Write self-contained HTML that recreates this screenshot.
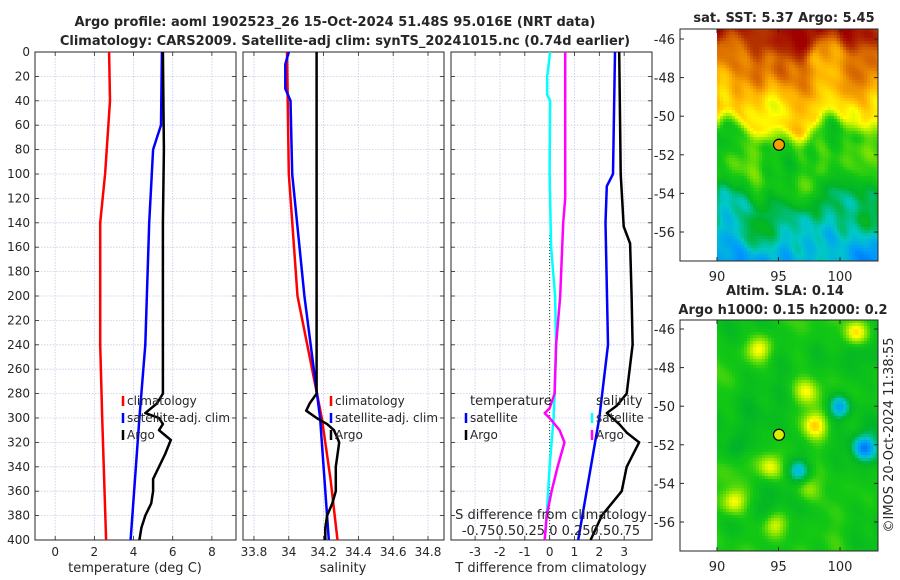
<!DOCTYPE html>
<html><head><meta charset="utf-8">
<style>
body{margin:0;background:#fff;font-family:"Liberation Sans","DejaVu Sans",sans-serif;}
#wrap{position:relative;width:900px;height:580px;overflow:hidden;background:#fff}
svg text{font-family:"DejaVu Sans","Liberation Sans",sans-serif;fill:#262626}
canvas{position:absolute;image-rendering:pixelated}
</style></head>
<body>
<div id="wrap">
<canvas id="sst" width="161" height="232" style="left:717px;top:29px;width:161px;height:232px"></canvas>
<canvas id="sla" width="161" height="231" style="left:717px;top:320px;width:161px;height:231px"></canvas>
<svg id="svg" width="900" height="580" style="position:absolute;left:0;top:0"></svg>
</div>
<script>
// ---- data ----
const depthTicks=[0,20,40,60,80,100,120,140,160,180,200,220,240,260,280,300,320,340,360,380,400];
const tTicks=[0,2,4,6,8];
const sTicks=[33.8,34,34.2,34.4,34.6,34.8];
const dTicks=[-3,-2,-1,0,1,2,3];
const dsTickLabels=["-0.75","0.5","0.25","0","0.25","0.5","0.75"];
// panel 1: temperature
const tClimP=[0,40,100,140,240,300,400];
const tClimV=[2.75,2.8,2.55,2.3,2.3,2.4,2.6];
const tSatP=[0,60,70,80,140,240,300,400];
const tSatV=[5.45,5.4,5.2,5.0,4.8,4.6,4.3,3.85];
const tArgoP=[0,80,140,260,280,288,292,296,300,305,310,318,330,350,360,370,380,390,400];
const tArgoV=[5.5,5.55,5.5,5.5,5.5,5.2,4.9,4.6,5.3,5.5,5.3,5.9,5.6,5.0,5.0,4.9,4.6,4.4,4.3];
// panel 2: salinity
const sClimP=[0,100,200,250,300,350,400];
const sClimV=[33.99,34.0,34.05,34.12,34.19,34.24,34.28];
const sSatP=[0,10,30,40,100,200,300,400];
const sSatV=[34.0,33.98,33.98,34.01,34.02,34.09,34.18,34.23];
const sArgoP=[0,280,288,294,300,305,310,320,340,360,370,380,390,400];
const sArgoV=[34.16,34.16,34.12,34.1,34.16,34.22,34.26,34.29,34.27,34.27,34.25,34.22,34.21,34.21];
// panel 3: differences
const dtSatP=[0,100,110,140,240,300,400];
const dtSatV=[2.63,2.55,2.3,2.25,2.35,2.0,1.15];
const dtArgoP=[0,100,143,157,200,240,280,290,296,305,312,320,340,360,380,400];
const dtArgoV=[2.8,2.86,2.98,3.24,3.3,3.34,3.1,2.7,2.3,2.8,3.1,3.6,3.1,2.9,2.1,1.65];
const dsSatP=[0,20,35,40,100,160,200,240,280,300,340,380,400];
const dsSatV=[0.005,-0.025,-0.025,0.005,0,0.015,0.055,0.065,0.05,0.04,0.0,-0.03,-0.05];
const dsArgoP=[0,120,140,200,240,280,292,296,300,310,320,340,360,380,400];
const dsArgoV=[0.157,0.157,0.136,0.106,0.065,0.05,0.0,-0.05,0.0,0.1,0.15,0.08,0.02,-0.03,-0.05];
const latTicks=[-46,-48,-50,-52,-54,-56];
const lonTicks=[90,95,100];

const NS="http://www.w3.org/2000/svg";
const svg=document.getElementById('svg');
function el(tag,attrs,parent){const e=document.createElementNS(NS,tag);for(const k in attrs)e.setAttribute(k,attrs[k]);(parent||svg).appendChild(e);return e;}
function txt(x,y,s,opt,parent){const t=el('text',Object.assign({x:x,y:y,'font-size':12,'text-anchor':'middle'},opt||{}),parent);t.textContent=s;return t;}

const Y0=52,Y1=540;
const yD=d=>Y0+(Y1-Y0)*d/400;
const panels=[
 {name:'temperature',x0:35,x1:236,min:-1.03,max:9.23},
 {name:'salinity',x0:243,x1:444,min:33.737,max:34.892},
 {name:'difference',x0:451,x1:652,min:-3.97,max:4.12}
];
function xf(p){return v=>p.x0+(p.x1-p.x0)*(v-p.min)/(p.max-p.min);}

function drawPanel(p,ticks,labels,showY){
  const g=el('g',{});
  
  
  const X=xf(p);
  ticks.forEach((t,i)=>{
    const x=X(t);
    el('line',{x1:x,y1:Y0,x2:x,y2:Y1,stroke:'#c3cbe8','stroke-width':0.8,'stroke-dasharray':'1.5,1.5'},g);
    el('line',{x1:x,y1:Y1,x2:x,y2:Y1-4,stroke:'#262626','stroke-width':0.8},g);
    el('line',{x1:x,y1:Y0,x2:x,y2:Y0+4,stroke:'#262626','stroke-width':0.8},g);
    const lb=txt(x,556,labels?labels[i]:String(t),{},g);
    
    
  });
  depthTicks.forEach(d=>{
    const y=yD(d);
    el('line',{x1:p.x0,y1:y,x2:p.x1,y2:y,stroke:'#c3cbe8','stroke-width':0.8,'stroke-dasharray':'1.5,1.5'},g);
    el('line',{x1:p.x0,y1:y,x2:p.x0+4,y2:y,stroke:'#262626','stroke-width':0.8},g);
    el('line',{x1:p.x1,y1:y,x2:p.x1-4,y2:y,stroke:'#262626','stroke-width':0.8},g);
    if(showY){const l=txt(p.x0-5,y+4,String(d),{'text-anchor':'end'},g);
      
      }
  });
  el('rect',{x:p.x0,y:Y0,width:p.x1-p.x0,height:Y1-Y0,fill:'none',stroke:'#262626','stroke-width':1},g);
  return X;
}
function line(X,P,V,color,name,scale){
  const pts=P.map((d,i)=>X(V[i]*(scale||1)).toFixed(1)+','+yD(d).toFixed(1)).join(' ');
  const l=el('polyline',{points:pts,fill:'none',stroke:color,'stroke-width':2.5,'stroke-linejoin':'round'});
  
  
}
function legend(x,y,items){
  items.forEach((it,i)=>{
    const yy=y+i*17;
    el('line',{x1:x,y1:yy-9,x2:x,y2:yy+1,stroke:it[0],'stroke-width':2.5});
    const t=txt(x+4,yy,it[1],{'text-anchor':'start'});
    
    
  });
}

const X1=drawPanel(panels[0],tTicks,null,true);
line(X1,tClimP,tClimV,'#ff0000','temperature-climatology-line');
line(X1,tSatP,tSatV,'#0000ff','temperature-satellite-line');
line(X1,tArgoP,tArgoV,'#000000','temperature-argo-line');
legend(123,405,[['#ff0000','climatology'],['#0000ff','satellite-adj. clim'],['#000','Argo']]);
txt(135,572,'temperature (deg C)',{'font-size':13});

const X2=drawPanel(panels[1],sTicks,["33.8","34","34.2","34.4","34.6","34.8"],false);
line(X2,sClimP,sClimV,'#ff0000','salinity-climatology-line');
line(X2,sSatP,sSatV,'#0000ff','salinity-satellite-line');
line(X2,sArgoP,sArgoV,'#000000','salinity-argo-line');
legend(331,405,[['#ff0000','climatology'],['#0000ff','satellite-adj. clim'],['#000','Argo']]);
txt(343,572,'salinity',{'font-size':13});

const X3=drawPanel(panels[2],dTicks,null,false);
el('line',{x1:X3(0),y1:yD(150),x2:X3(0),y2:Y1,stroke:'#333','stroke-width':1,'stroke-dasharray':'1,2'});
line(X3,dsSatP,dsSatV,'#00ffff','s-diff-satellite-line',4);
line(X3,dsArgoP,dsArgoV,'#ff00ff','s-diff-argo-line',4);
line(X3,dtSatP,dtSatV,'#0000ff','t-diff-satellite-line');
line(X3,dtArgoP,dtArgoV,'#000000','t-diff-argo-line');
txt(470,405,'temperature',{'text-anchor':'start','font-size':13});
txt(596,405,'salinity',{'text-anchor':'start','font-size':13});
legend(466,422,[['#0000ff','satellite'],['#000','Argo']]);
legend(592,422,[['#00ffff','satellite'],['#ff00ff','Argo']]);
txt(551,519,'S difference from climatology',{'font-size':13});
txt(551,535,'-0.750.50.25 0  0.250.50.75',{'font-size':13});
txt(551,572,'T difference from climatology',{'font-size':13});

// titles
txt(335,26,'Argo profile: aoml 1902523_26 15-Oct-2024 51.48S 95.016E (NRT data)',{'font-weight':'bold','font-size':13,fill:'#000'});
txt(345,45,'Climatology: CARS2009. Satellite-adj clim: synTS_20241015.nc (0.74d earlier)',{'font-weight':'bold','font-size':13,fill:'#000'});

// maps
function mapAxes(top,bot,lat46,lat56,name,fillc){
  const g=el('g',{});
  
  
  const ly=l=>lat46+(lat56-lat46)*(l+46)/(-10);
  latTicks.forEach(l=>{const y=ly(l);
    el('line',{x1:680,y1:y,x2:684,y2:y,stroke:'#262626'},g);
    el('line',{x1:878,y1:y,x2:874,y2:y,stroke:'#262626'},g);
    txt(675,y+5,String(l),{'text-anchor':'end','font-size':13},g);});
  lonTicks.forEach(l=>{const x=717+(l-90)*12.3;
    el('line',{x1:x,y1:bot,x2:x,y2:bot-4,stroke:'#262626'},g);
    el('line',{x1:x,y1:top,x2:x,y2:top+4,stroke:'#262626'},g);
    txt(x,bot+20,String(l),{'font-size':13},g);});
  el('rect',{x:680,y:top,width:198,height:bot-top,fill:'none',stroke:'#262626'},g);
  el('circle',{cx:779,cy:ly(-51.48),r:5.5,fill:fillc,stroke:'#000','stroke-width':1.2},g);
}
mapAxes(29,261,39,232,'sst-axes','#f5a000');
mapAxes(320,551,329,522,'sla-axes','#d8f000');
txt(784,22,'sat. SST: 5.37 Argo: 5.45',{'font-weight':'bold','font-size':13,fill:'#000'});
txt(785,295,'Altim. SLA: 0.14',{'font-weight':'bold','font-size':13,fill:'#000'});
txt(783,314,'Argo h1000: 0.15 h2000: 0.2',{'font-weight':'bold','font-size':13,fill:'#000'});
const c=txt(0,0,'©IMOS 20-Oct-2024 11:38:55',{'font-size':13,transform:'translate(893,435) rotate(-90)'});



const cmStops=[[0,[0,0,150]],[0.18,[0,60,220]],[0.28,[0,150,255]],[0.36,[0,200,200]],[0.44,[0,180,40]],[0.52,[20,200,20]],[0.6,[140,230,0]],[0.68,[255,255,0]],[0.76,[255,180,0]],[0.84,[220,110,0]],[0.92,[180,50,0]],[1,[160,0,0]]];
function cmap(v){v=Math.max(0,Math.min(1,v));
  for(let i=1;i<cmStops.length;i++){if(v<=cmStops[i][0]){const a=cmStops[i-1],b=cmStops[i],f=(v-a[0])/(b[0]-a[0]);
    return 'rgb('+a[1].map((c,k)=>Math.round(c+(b[1][k]-c)*f)).join(',')+')';}}
  return 'rgb(160,0,0)';}
function noise(u,v,s){
  return Math.sin(u*13.1*s+v*7.3+1.3)*Math.cos(v*11.7*s-u*3.1+0.4)
   +0.7*Math.sin(u*23.7*s-v*19.3*s+2.1)*Math.sin(v*5.9+u*17.3)
   +0.5*Math.cos(u*37.1-v*29.9*s+0.7)*Math.cos(u*9.3+v*31.7);
}
function smooth(a,b,x){const t=Math.max(0,Math.min(1,(x-a)/(b-a)));return t*t*(3-2*t);}
function drawMap(id,fn,cell){
  const cv=document.getElementById(id),ctx=cv.getContext('2d');
  for(let y=0;y<cv.height;y+=cell)for(let x=0;x<cv.width;x+=cell){
    ctx.fillStyle=cmap(fn(x/cv.width,y/cv.height));ctx.fillRect(x,y,cell,cell);}
}
drawMap('sst',(u,v)=>{
  const w=v+0.04*Math.sin(u*9+1.2)+0.03*Math.sin(u*21);
  const base=0.97-0.15*smooth(0.02,0.12,w)-0.12*smooth(0.15,0.38,w)-0.17*smooth(0.38,0.48,w)
    -0.12*smooth(0.62,0.78,w)-0.1*smooth(0.8,1.0,w);
  return base+0.04*noise(u,v,1);
},3);
const slaBlobs=[[0.25,0.12,0.2],[0.85,0.05,0.25],[0.5,0.65,-0.15],[0.1,0.78,0.2],[0.32,0.63,0.17],[0.55,0.72,0.12],[0.6,0.45,0.2],[0.75,0.37,-0.22],[0.9,0.55,-0.2],[0.35,0.88,0.18],[0.1,0.55,-0.1],[0.55,0.3,0.15]];
drawMap('sla',(u,v)=>{
  let s=0.5+0.035*noise(u*0.7+0.2,v*0.8+0.5,0.8);
  slaBlobs.forEach(b=>{const d=((u-b[0])**2)*60+((v-b[1])**2)*110;s+=b[2]*Math.exp(-d*3);});
  return s;
},3);
</script>
</body></html>
